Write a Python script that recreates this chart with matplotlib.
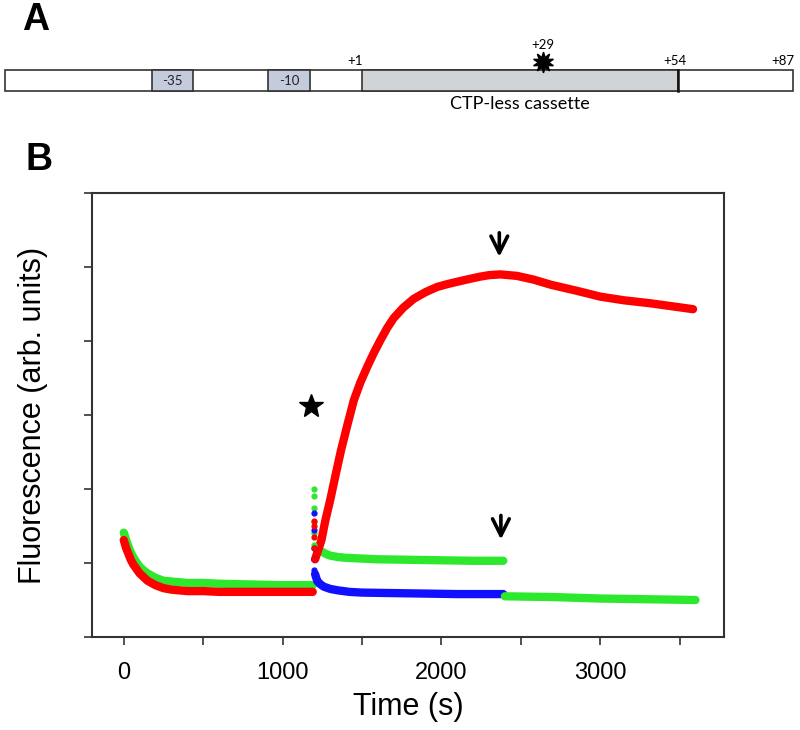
import numpy as np
import matplotlib
matplotlib.use("Agg")
import matplotlib.pyplot as plt
from matplotlib.patches import Rectangle

plt.rcParams['font.family'] = ['Liberation Sans', 'DejaVu Sans']

# ---- panel B data ----
red_base_t = [0, 15, 30, 45, 60, 80, 100, 125, 150, 175, 200, 250, 300, 400, 500, 600,
              800, 1000, 1190]
red_base_v = [1.31, 1.20, 1.12, 1.04, 0.98, 0.92, 0.86, 0.81, 0.76, 0.73, 0.70, 0.66,
              0.64, 0.62, 0.62, 0.61, 0.61, 0.61, 0.61]
red_rise_t = [1205, 1245, 1270, 1300, 1335, 1369, 1410, 1449, 1490, 1533, 1575, 1616,
              1660, 1700, 1760, 1826, 1900, 1973, 2040, 2119, 2180, 2245, 2300, 2371,
              2476, 2580, 2690, 2850, 3000, 3150, 3315, 3450, 3585]
red_rise_v = [1.05, 1.31, 1.58, 1.85, 2.20, 2.53, 2.88, 3.20, 3.44, 3.65, 3.84, 4.01,
              4.18, 4.31, 4.45, 4.57, 4.66, 4.73, 4.77, 4.81, 4.84, 4.87, 4.89, 4.90,
              4.88, 4.83, 4.76, 4.68, 4.60, 4.55, 4.51, 4.47, 4.43]

green_base_t = red_base_t
green_base_v = [1.41, 1.31, 1.22, 1.14, 1.08, 1.01, 0.95, 0.90, 0.86, 0.83, 0.80, 0.76,
                0.75, 0.73, 0.73, 0.72, 0.71, 0.70, 0.70]
green_mid_t = [1210, 1230, 1250, 1275, 1300, 1350, 1400, 1500, 1600, 1900, 2200, 2390]
green_mid_v = [1.20, 1.17, 1.15, 1.12, 1.10, 1.08, 1.07, 1.06, 1.05, 1.04, 1.03, 1.03]
green_tail_t = [2400, 2700, 3000, 3300, 3600]
green_tail_v = [0.55, 0.54, 0.52, 0.51, 0.50]

blue_t = [1205, 1212, 1220, 1240, 1260, 1300, 1350, 1420, 1500, 1800, 2100, 2390]
blue_v = [0.85, 0.80, 0.75, 0.71, 0.68, 0.65, 0.63, 0.61, 0.60, 0.59, 0.58, 0.58]

# points of the injection spike at t = 1200 s
spike_green = [2.0, 1.9, 1.75, 1.55, 1.4, 1.25]
spike_blue = [1.68, 1.45, 1.2, 1.05, 0.9]
spike_red = [1.57, 1.5, 1.35, 1.2, 1.05]
spike_t = 1200

star_t, star_v = 1182, 3.12
arrow_t = [2365, 2375]
arrow_v = [(5.50, 5.10), (1.68, 1.28)]

xticks = [0, 500, 1000, 1500, 2000, 2500, 3000, 3500]
xticklabels = ['0', '', '1000', '', '2000', '', '3000', '']

# ---- panel A schematic (sequence map, drawn in its own units) ----
bar_edges = [5, 793]
promoter_boxes = [(152, 193, '-35'), (268, 310, '-10')]
cassette = (362, 678)
site_labels = [(355, '+1'), (675, '+54'), (783, '+87')]
site29 = (543, '+29')

RED = '#ff0000'
GREEN = '#2ee82e'
BLUE = '#1010ff'

fig = plt.figure(figsize=(8, 7.3), dpi=100)

# panel A
axA = fig.add_axes([0, 1 - 130 / 730, 1, 130 / 730])
axA.set_xlim(0, 800)
axA.set_ylim(130, 0)
axA.axis('off')
axA.add_patch(Rectangle((bar_edges[0], 70), bar_edges[1] - bar_edges[0], 21,
                        facecolor='white', edgecolor='#333333', lw=1.2))
for x0, x1, lab in promoter_boxes:
    axA.add_patch(Rectangle((x0, 70), x1 - x0, 21, facecolor='#c3cbdc',
                            edgecolor='#333333', lw=1.2))
    axA.text((x0 + x1) / 2, 81, lab, ha='center', va='center', fontsize=9.5,
             family='Lato', color='#222222')
axA.add_patch(Rectangle((cassette[0], 70), cassette[1] - cassette[0], 21,
                        facecolor='#d0d4d7', edgecolor='#333333', lw=1.2))
axA.plot([cassette[1], cassette[1]], [70, 91], color='#111111', lw=1.8)
for x, lab in site_labels:
    axA.text(x, 67, lab, ha='center', va='bottom', fontsize=9.5, family='Lato')
axA.text(site29[0], 51, site29[1], ha='center', va='bottom', fontsize=9.5, family='Lato')
axA.plot(site29[0], 62, marker=(10, 1, 0), markersize=15, color='black')
axA.text(520, 104, 'CTP-less cassette', ha='center', va='center', fontsize=13,
         family='Lato')
axA.text(22, 20, 'A', fontsize=27, fontweight='bold', va='center', ha='left')

# panel B
ax = fig.add_axes([92 / 800, 93 / 730, 632 / 800, 444 / 730])
lw = 6
ax.plot(green_base_t, green_base_v, color=GREEN, lw=lw, solid_capstyle='round')
ax.plot(red_base_t, red_base_v, color=RED, lw=lw, solid_capstyle='round')
ax.plot(blue_t, blue_v, color=BLUE, lw=lw, solid_capstyle='round')
ax.plot(green_mid_t, green_mid_v, color=GREEN, lw=lw, solid_capstyle='round')
ax.plot(green_tail_t, green_tail_v, color=GREEN, lw=lw, solid_capstyle='round')
ax.plot(red_rise_t, red_rise_v, color=RED, lw=lw, solid_capstyle='round')
ax.scatter([spike_t] * len(spike_green), spike_green, s=12, color=GREEN, zorder=3)
ax.scatter([spike_t] * len(spike_blue), spike_blue, s=12, color=BLUE, zorder=3)
ax.scatter([spike_t - 5] * len(spike_red), spike_red, s=12, color=RED, zorder=3)

ax.plot(star_t, star_v, marker='*', markersize=18, color='black')
for t, (v0, v1) in zip(arrow_t, arrow_v):
    ax.annotate('', xy=(t, v1), xytext=(t, v0),
                arrowprops=dict(arrowstyle='->', lw=2.6, color='black',
                                mutation_scale=30))

ax.set_xlim(-200, 3780)
ax.set_ylim(0, 6)
ax.set_xticks(xticks)
ax.set_xticklabels(xticklabels, fontsize=17)
ax.set_yticks([0, 1, 2, 3, 4, 5, 6])
ax.set_yticklabels([])
ax.tick_params(direction='out', length=6, width=1.2, colors='#333333', pad=12)
ax.tick_params(axis='x', labelcolor='black')
for sp in ax.spines.values():
    sp.set_color('#333333')
    sp.set_linewidth(1.5)
ax.set_xlabel('Time (s)', fontsize=22, labelpad=6)
ax.set_ylabel('Fluorescence (arb. units)', fontsize=22, labelpad=14)

fig.text(25 / 800, 1 - 160 / 730, 'B', fontsize=27, fontweight='bold', va='center', ha='left')

fig.savefig('out.png', dpi=100)
